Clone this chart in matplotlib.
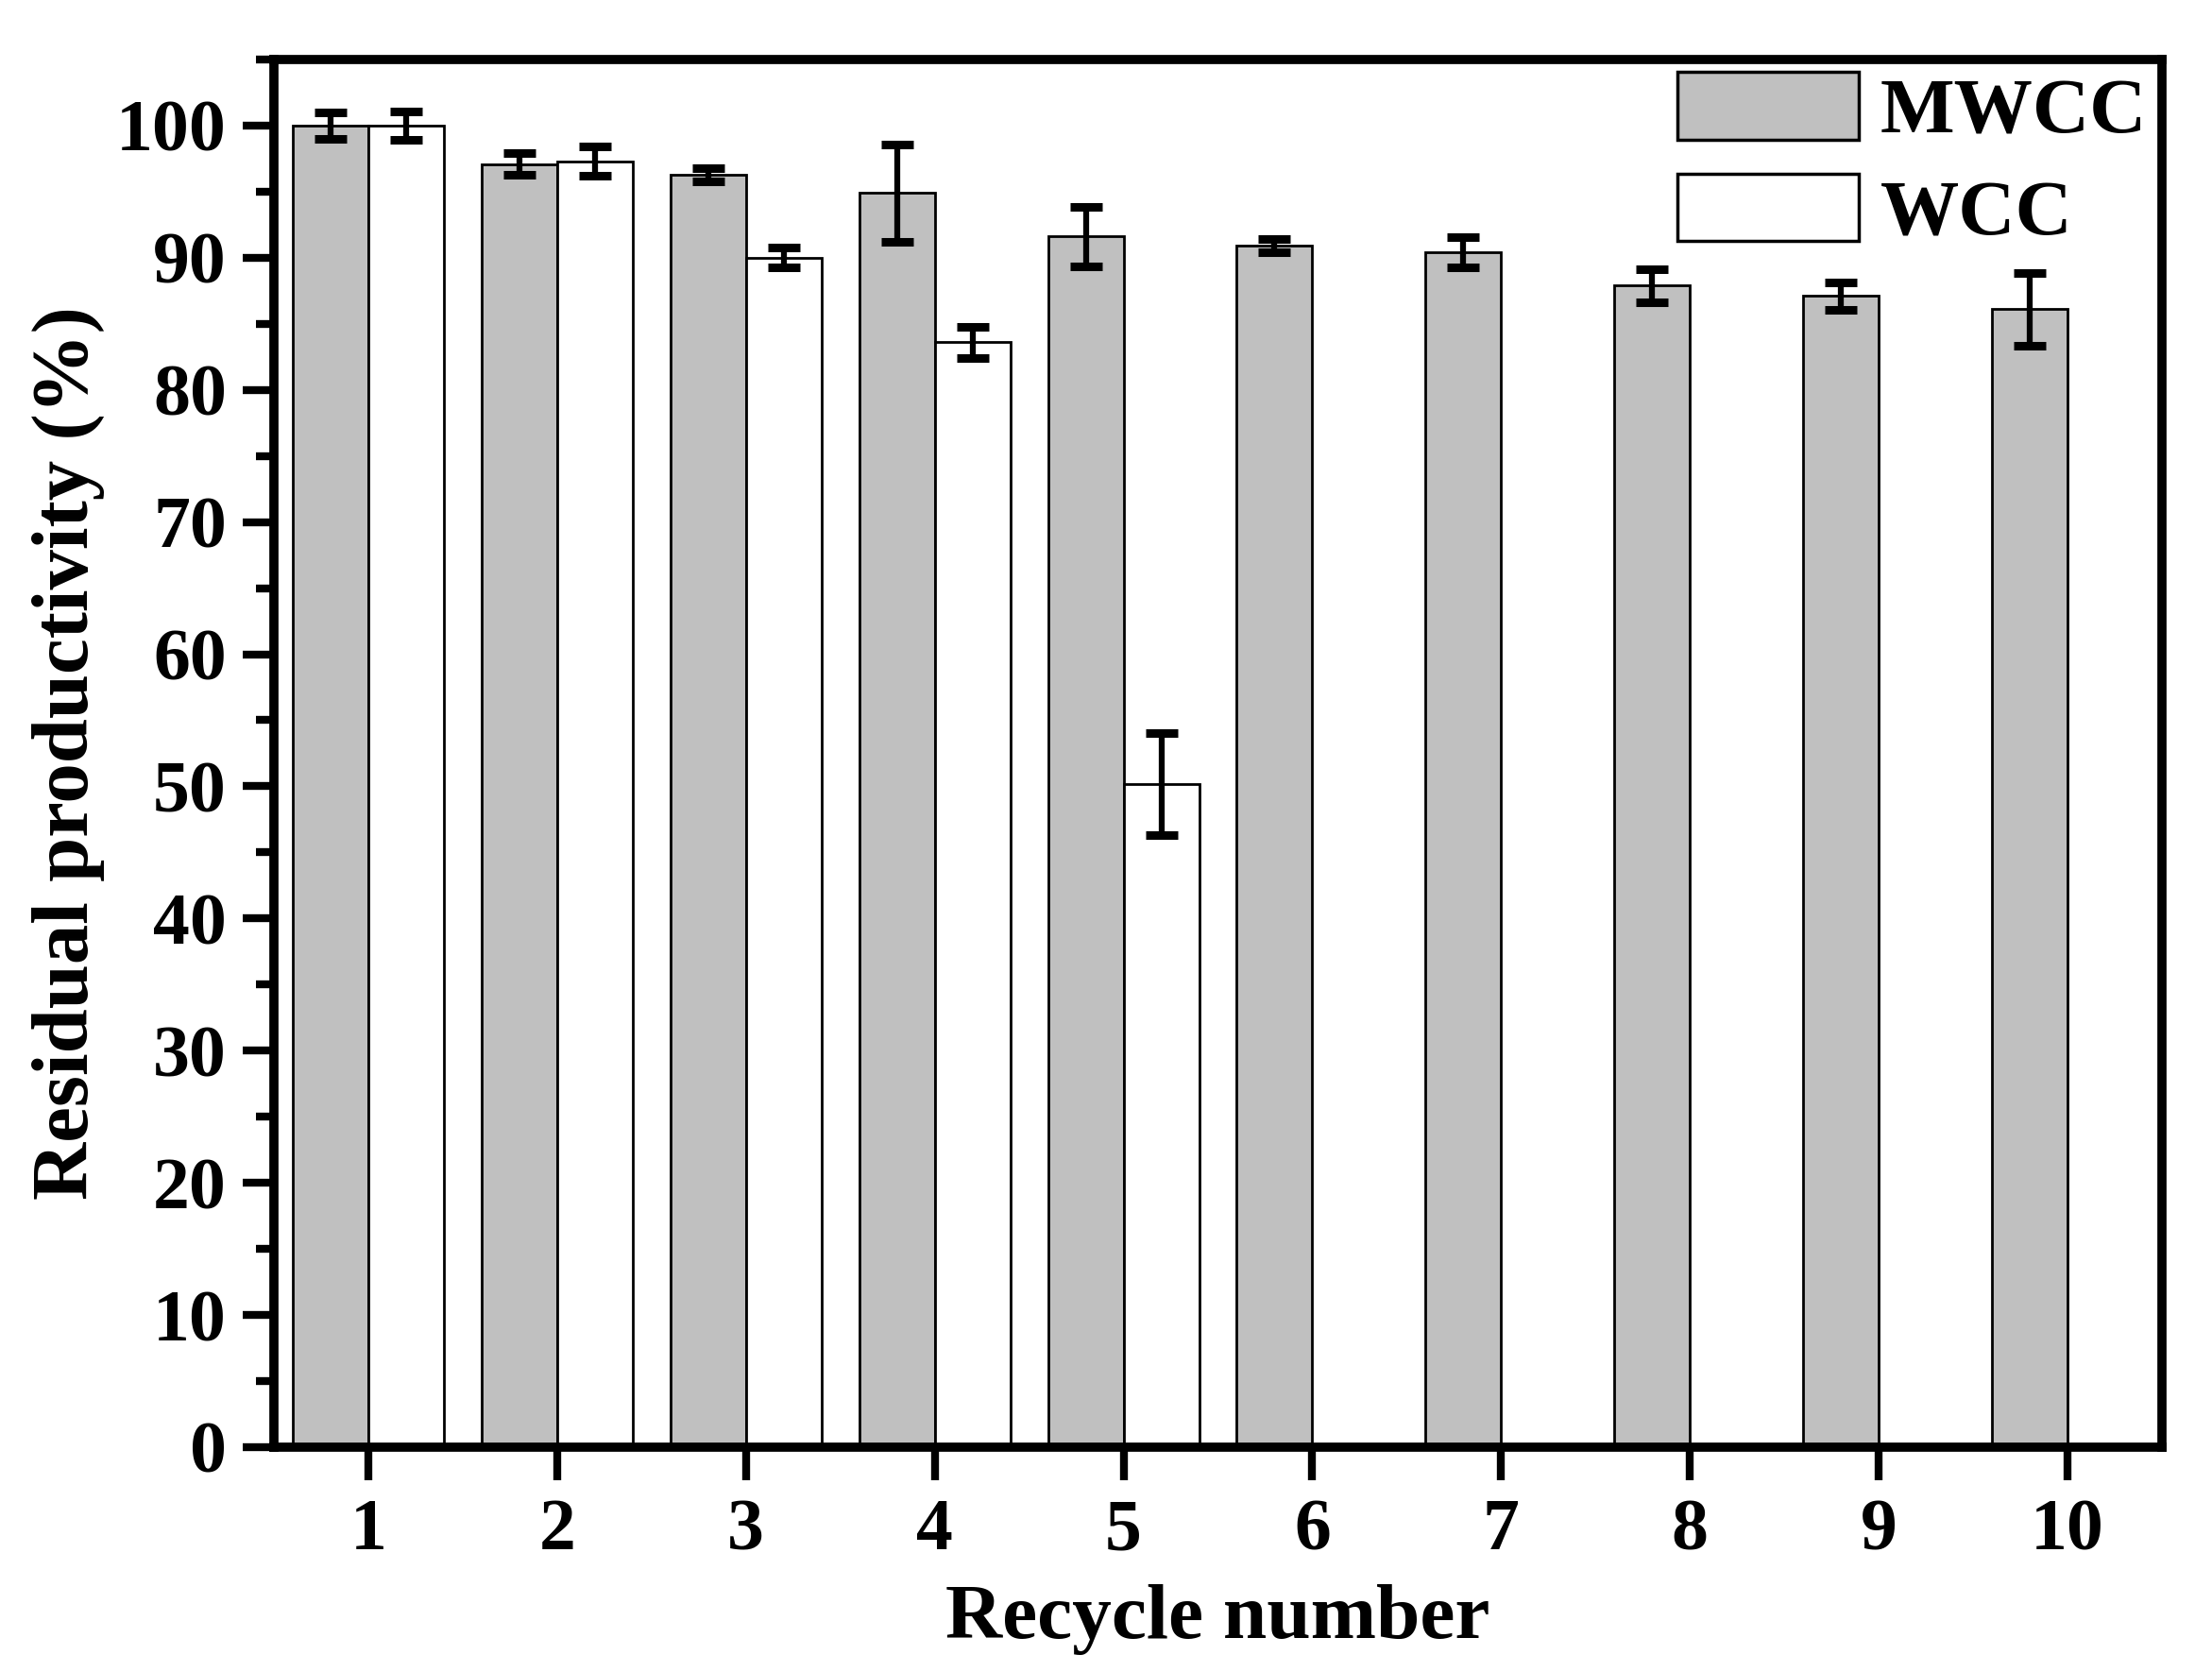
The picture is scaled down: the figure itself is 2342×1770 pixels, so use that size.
import matplotlib
matplotlib.use("Agg")
import matplotlib.pyplot as plt
import numpy as np
from matplotlib.ticker import MultipleLocator

# ---- data ----
recycle = [1, 2, 3, 4, 5, 6, 7, 8, 9, 10]
mwcc = [100.0, 97.1, 96.3, 94.9, 91.6, 90.9, 90.4, 87.9, 87.1, 86.1]
mwcc_err = [1.0, 0.8, 0.5, 3.7, 2.25, 0.5, 1.15, 1.25, 1.05, 2.75]
wcc_recycle = [1, 2, 3, 4, 5]
wcc = [100.0, 97.3, 90.0, 83.6, 50.2]
wcc_err = [1.1, 1.1, 0.75, 1.2, 3.85]
series_labels = ["MWCC", "WCC"]
xlabel = "Recycle number"
ylabel = "Residual productivity (%)"

plt.rcParams['font.family'] = ['Liberation Serif', 'DejaVu Serif']
plt.rcParams['font.weight'] = 'bold'

fig = plt.figure(figsize=(23.42, 17.70), dpi=100)
ax = fig.add_axes([0.1238, 0.1345, 0.8536, 0.8299])

w = 0.4
err_kw = dict(ecolor='black', elinewidth=4.5, capsize=12, capthick=6.5)
ax.bar(np.array(recycle) - w / 2, mwcc, width=w, color='#c0c0c0',
       edgecolor='black', linewidth=2.0, label=series_labels[0],
       yerr=mwcc_err, error_kw=err_kw, zorder=2)
ax.bar(np.array(wcc_recycle) + w / 2, wcc, width=w, color='white',
       edgecolor='black', linewidth=2.0, label=series_labels[1],
       yerr=wcc_err, error_kw=err_kw, zorder=2)

ax.set_xlim(0.5, 10.5)
ax.set_ylim(0, 105)
ax.set_xticks(recycle)
ax.set_yticks(np.arange(0, 101, 10))
ax.yaxis.set_minor_locator(MultipleLocator(5))

for s in ax.spines.values():
    s.set_linewidth(7)

ax.tick_params(axis='y', which='major', direction='out', length=24, width=6,
               pad=12, labelsize=56)
ax.tick_params(axis='y', which='minor', direction='out', length=14, width=6)
ax.tick_params(axis='x', which='major', direction='out', length=25, width=6,
               pad=14, labelsize=56)
for lab in ax.get_xticklabels() + ax.get_yticklabels():
    lab.set_fontweight('bold')

ax.set_xlabel(xlabel, fontsize=60, fontweight='bold', labelpad=14)
ax.set_ylabel(ylabel, fontsize=61, fontweight='bold', labelpad=9)

leg = ax.legend(loc='upper left', bbox_to_anchor=(0.7583, 1 - 76 / 1770),
                bbox_transform=fig.transFigure, frameon=False,
                prop={'size': 60, 'weight': 'bold'},
                handlelength=2.3, handleheight=0.95, handletextpad=0.28,
                labelspacing=0.3, borderpad=0, borderaxespad=0)
for p in leg.get_patches():
    p.set_linewidth(2.5)

fig.savefig("out.png", dpi=100, facecolor='white')
